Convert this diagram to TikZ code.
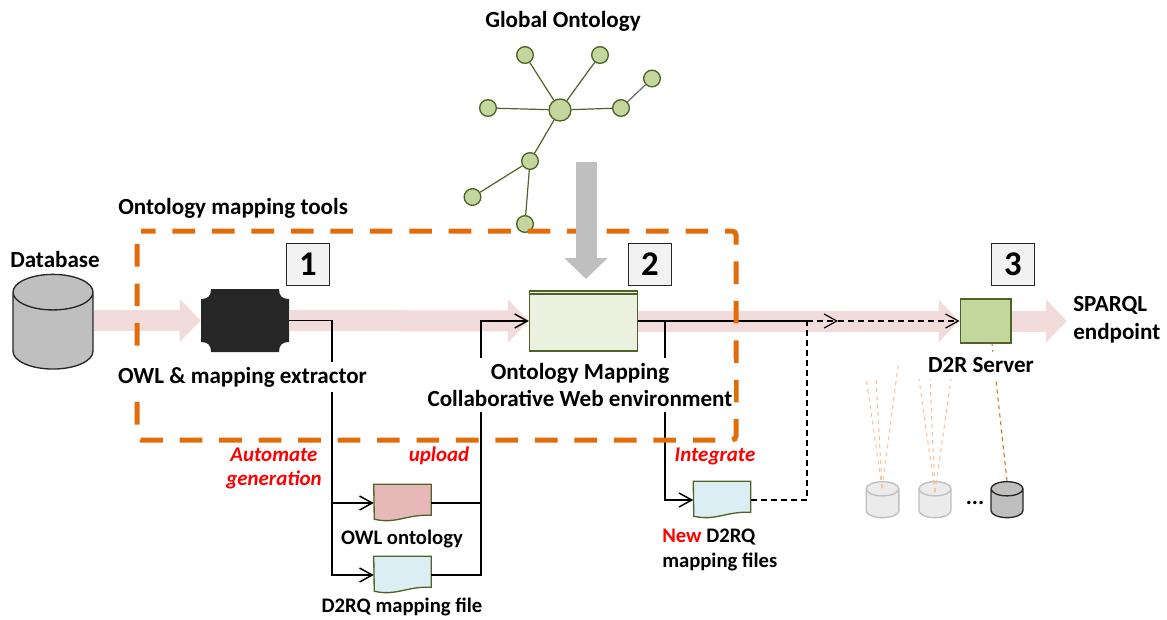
\documentclass[tikz,border=0pt]{standalone}
\usepackage{fontspec}
\setmainfont{Carlito}
\usetikzlibrary{arrows.meta,shapes.geometric}
\definecolor{flowpink}{HTML}{F2DCDB}
\definecolor{boxgrey}{HTML}{BFBFBF}
\definecolor{frameorange}{HTML}{E36C0A}
\definecolor{leafgreen}{HTML}{C3D69B}
\definecolor{darkgreen}{HTML}{4F6228}
\definecolor{envgreen}{HTML}{EBF1DE}
\definecolor{docblue}{HTML}{DBEEF4}
\definecolor{docpink}{HTML}{E6B9B8}
\newcommand{\docnode}[3]{% name, position, fill of a wavy file
    \node[D] (#1) at (#2) {};
    \draw[fill=#3, draw=darkgreen, line width=1pt] (#1.north west) -- (#1.north east) -- ++(0,31)
        .. controls +(-25,-1) and +(22,5) .. ++(-57,4) -- cycle;
}
\begin{document}
\begin{tikzpicture}[
        x=.75pt, y=-.75pt,
        L/.style = {font=\bfseries\fontsize{17.3}{20}\selectfont, inner sep=0pt},% plain labels
        S/.style = {font=\bfseries\fontsize{15.5}{19}\selectfont, inner sep=0pt},% labels of the files
        W/.style = {L, fill=white, align=center, inner xsep=1pt, inner ysep=4pt},% labels that hide lines
        R/.style = {font=\bfseries\itshape\fontsize{15.7}{18}\selectfont, text=red, align=center, inner sep=0pt},
        G/.style = {circle, draw=darkgreen, fill=leafgreen, line width=1pt,
                minimum size=12.5pt, inner sep=0pt},
        E/.style = {draw=darkgreen, line width=.9pt},
        N/.style = {rectangle, draw=black!85, fill=black!5, line width=.9pt,
                minimum size=32pt, inner sep=0pt,
                font=\bfseries\fontsize{26}{26}\selectfont},% numbered boxes
        C/.style = {cylinder, shape border rotate=90, aspect=#1, line width=1pt},
        D/.style = {rectangle, minimum width=42.75pt, minimum height=27.75pt, inner sep=0pt},
        F/.style = {line width=15.75pt, draw=flowpink, -{Triangle[length=15.75pt, width=31.5pt]}},% broad flow
        A/.style = {line width=1.1pt, -{Straight Barb[length=9.5pt, width=10.5pt]}},
        A2/.style = {A, dash pattern=on 4.5pt off 3pt, line width=.9pt},
    ]
    \useasboundingbox (0,0) rectangle (1167,619);
    % nodes of the flow
    \node[C=4, draw=black!85, fill=boxgrey, minimum width=60pt, minimum height=71pt] (database) at (53,335) {};
    \node[rectangle, minimum width=66pt, minimum height=47.25pt, inner sep=0pt] (extractor) at (245,320.5) {};
    \fill[black!85] (211,289) -- (279,289) .. controls (279,296) and (282,299) .. (289,299)
        -- (289,342) .. controls (282,342) and (279,345) .. (279,352)
        -- (211,352) .. controls (211,345) and (208,342) .. (201,342)
        -- (201,299) .. controls (208,299) and (211,296) .. (211,289) -- cycle;
    \node[rectangle, draw=darkgreen, fill=envgreen, line width=1pt, minimum width=81pt, minimum height=45pt,
        inner sep=0pt] (mapping) at (583.5,321) {};
    \draw[darkgreen, line width=1pt] (mapping.north west) ++(0,3.5) -- ++(108,0);
    \node[rectangle, draw=darkgreen, fill=leafgreen, line width=1pt, minimum width=38pt, minimum height=33pt,
        inner sep=0pt] (server) at (985.5,321) {};
    \docnode{owlfile}{402.5,503}{docpink}
    \docnode{d2rqfile}{402.5,575}{docblue}
    \docnode{newfile}{722,500}{docblue}
    \coordinate (flowend) at (1067,321);
    % broad arrows
    \draw[F] (database.east |- extractor.west) -- (extractor.west);
    \draw[F] (extractor.east) -- (mapping.west);
    \draw[F] (mapping.east) -- (server.west);
    \draw[F] (server.east) -- (flowend);
    % global ontology
    \node[G, minimum size=16.5pt] (hub) at (560,110) {};
    \foreach \n/\p in {a/{525,55},b/{600,55},c/{621,108},d/{652,78.5},e/{488,108},f/{530,161},g/{472.5,197},h/{525,224}}
    \node[G] (g\n) at (\p) {};
    \foreach \n in {a,b,c,e,f}
    \draw[E] (hub) -- (g\n);
    \draw[E, draw=black!60] (gc) -- (gd);
    \draw[E] (gf) -- (gg);
    \draw[E] (gf) -- (gh);
    % thin connectors
    \coordinate (splitin) at (332,320.5);
    \coordinate (splitout) at (481,575);
    \coordinate (splitnew) at (665,321);
    \coordinate (joindash) at (807,321);
    \coordinate (midtip) at (838,321);
    \draw[A] (extractor.east) -- (splitin) |- (owlfile.west);
    \draw[A] (splitin) |- (d2rqfile.west);
    \draw[line width=1.1pt] (owlfile.east) -- (owlfile.east -| splitout);
    \draw[A] (d2rqfile.east) -- (splitout) |- (mapping.west);
    \draw[A] (mapping.east) -- (splitnew) |- (newfile.west);
    \draw[line width=1.1pt] (mapping.east) -- (joindash);
    \draw[A2] (joindash) -- (midtip);
    \draw[A2] (midtip) -- (server.west);
    \draw[A2, -] (newfile.east) -| (joindash);
    % frame of the tools
    \draw[frameorange, line width=3.75pt, rounded corners=3pt, dash pattern=on 17pt off 12.6pt, dash phase=6pt]
        (137,231) -- (736,231) -- (736,440) -- (137,440) -- cycle;
    % big grey arrow
    \coordinate (ontofoot) at (586,162);
    \coordinate (ontotip) at (586,279);
    \draw[boxgrey, line width=15.75pt, -{Triangle[length=15.75pt, width=31.5pt]}] (ontofoot) -- (ontotip);
    % numbers
    \foreach \i/\x in {1/308,2/650,3/1013}
    \node[N] (num\i) at (\x,264.5) {\i};
    % small databases
    \node[C=1.6, draw=boxgrey, fill=black!8, minimum width=24.5pt, minimum height=27pt] (dba) at (882.5,506) {};
    \node[C=1.6, draw=boxgrey, fill=black!8, minimum width=24pt, minimum height=27pt] (dbb) at (935,506) {};
    \node[C=1.6, draw=black!85, fill=boxgrey, minimum width=24pt, minimum height=27pt] (dbc) at (1007,506) {};
    \foreach \p in {{866,377},{876,376},{898,366}}
    \draw[frameorange!40, line width=.8pt, dashed] (882,488) -- (\p);
    \foreach \p in {{919,379},{930,379},{951,379}}
    \draw[frameorange!40, line width=.8pt, dashed] (935,492) -- (\p);
    \draw[frameorange, line width=.8pt, dashed] (dbc.north) -- (server.south -| 992,0);
    % labels
    \node[L] (ltitle) at (563,21) {Global Ontology};
    \node[L, anchor=west] (ltools) at (118,208) {Ontology mapping tools};
    \node[L] (ldatabase) at (55,259) {Database};
    \node[W] (lextractor) at (242.5,377) {OWL \& mapping extractor};
    \node[W] (lmapping) at (580,385) {Ontology Mapping\\[.5pt]Collaborative Web environment};
    \node[W] (lserver) at (981,365) {D2R Server};
    \node[L, align=left, anchor=west] (lsparql) at (1073,320) {SPARQL\\[1pt]endpoint};
    \node[R] (lauto) at (274,468) {Automate\\generation};
    \node[R] (lupload) at (439,456) {upload};
    \node[R] (lintegrate) at (715,456) {Integrate};
    \node[S] (lowl) at (402,539) {OWL ontology};
    \node[S] (ld2rq) at (402,607) {D2RQ mapping file};
    \node[S, align=left, anchor=west] (lnew) at (662,550) {\textcolor{red}{New} D2RQ\\mapping files};
    \node[L] (ldots) at (975,503) {...};
\end{tikzpicture}
\end{document}
